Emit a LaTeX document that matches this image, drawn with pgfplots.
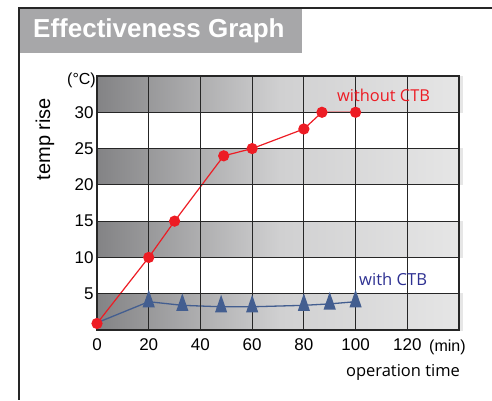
\documentclass[border=0pt]{standalone}
\usepackage{pgfplots}
\pgfplotsset{compat=1.18}
\usepackage{fontspec}
\setmainfont{Liberation Sans}
\newfontfamily\myr{Open Sans}
\definecolor{redc}{HTML}{ED1C24}
\definecolor{bluel}{HTML}{435E90}
\definecolor{bluet}{HTML}{2E3192}
\definecolor{titlegray}{HTML}{A7A7A9}
\definecolor{bandL}{HTML}{838385}
\definecolor{bandM}{HTML}{D0D0D1}
\definecolor{bandR}{HTML}{E6E6E6}
\begin{document}
\begin{tikzpicture}
\useasboundingbox (0pt,0pt) rectangle (492pt,400pt);
% frame
\draw[line width=1.4pt,black!85] (492pt,392pt) -- (19pt,392pt) -- (19pt,0pt);
\fill[titlegray] (20pt,347pt) rectangle (302pt,391pt);
\node[anchor=west,text=white,font=\bfseries\fontsize{26}{28}\selectfont,inner sep=0pt] at (33pt,369pt) {Effectiveness Graph};
\begin{axis}[
  at={(97pt,70pt)}, anchor=south west,
  scale only axis, width=362pt, height=254pt,
  xmin=0, xmax=140, ymin=0, ymax=35,
  xtick={0,20,40,60,80,100,120,140},
  xticklabels={0,20,40,60,80,100,120,},
  ytick={5,10,15,20,25,30,35},
  yticklabels={5,10,15,20,25,30,},
  grid=major,
  major grid style={black!85,line width=0.9pt},
  axis line style={black!85,line width=1.3pt},
  major tick length=0pt,
  tick label style={font=\fontsize{17}{19}\selectfont},
  /pgf/number format/assume math mode=true,
  xticklabel style={yshift=-5pt},
  yticklabel style={xshift=0pt},
  axis on top,
  clip=false,
]
\foreach \lo in {0,10,20,30}{
  \edef\tmp{\noexpand\shade[left color=bandL,right color=bandR,middle color=bandM] (axis cs:0,\lo) rectangle (axis cs:141.5,\lo+5);}
  \tmp
}
\addplot[redc,line width=1.2pt,mark=*,mark size=5pt,mark options={fill=redc,draw=redc}] coordinates {
(0,0.9) (20,10) (30,15) (49,24) (60,25) (80,27.7) (87,30) (100,30)};
\addplot[bluel,line width=1.3pt,mark=triangle*,mark size=10pt,mark options={fill=bluel,draw=bluel,xscale=0.6},
  mark indices={2,3,4,5,6,7,8}] coordinates {
(0,1) (20,3.9) (33,3.4) (48,3.2) (60,3.2) (80,3.4) (90,3.6) (100,3.9)};
\end{axis}
\node[anchor=east,inner sep=0pt,font=\fontsize{16}{18}\selectfont] at (96pt,320pt) {(°C)};
\node[rotate=90,inner sep=0pt,font=\fontsize{20}{22}\selectfont] at (45pt,261pt) {temp rise};
\node[anchor=west,inner sep=0pt,font=\fontsize{16}{18}\selectfont] at (429pt,53pt) {(min)};
\node[inner sep=0pt,font=\myr\fontsize{16.5}{18}\selectfont] at (403pt,28pt) {operation time};
\node[anchor=west,inner sep=0pt,text=redc,font=\myr\fontsize{16.4}{18}\selectfont] at (337pt,305pt) {without CTB};
\node[anchor=west,inner sep=0pt,text=bluet,font=\myr\fontsize{16.6}{18}\selectfont] at (359pt,121pt) {with CTB};
\end{tikzpicture}
\end{document}
